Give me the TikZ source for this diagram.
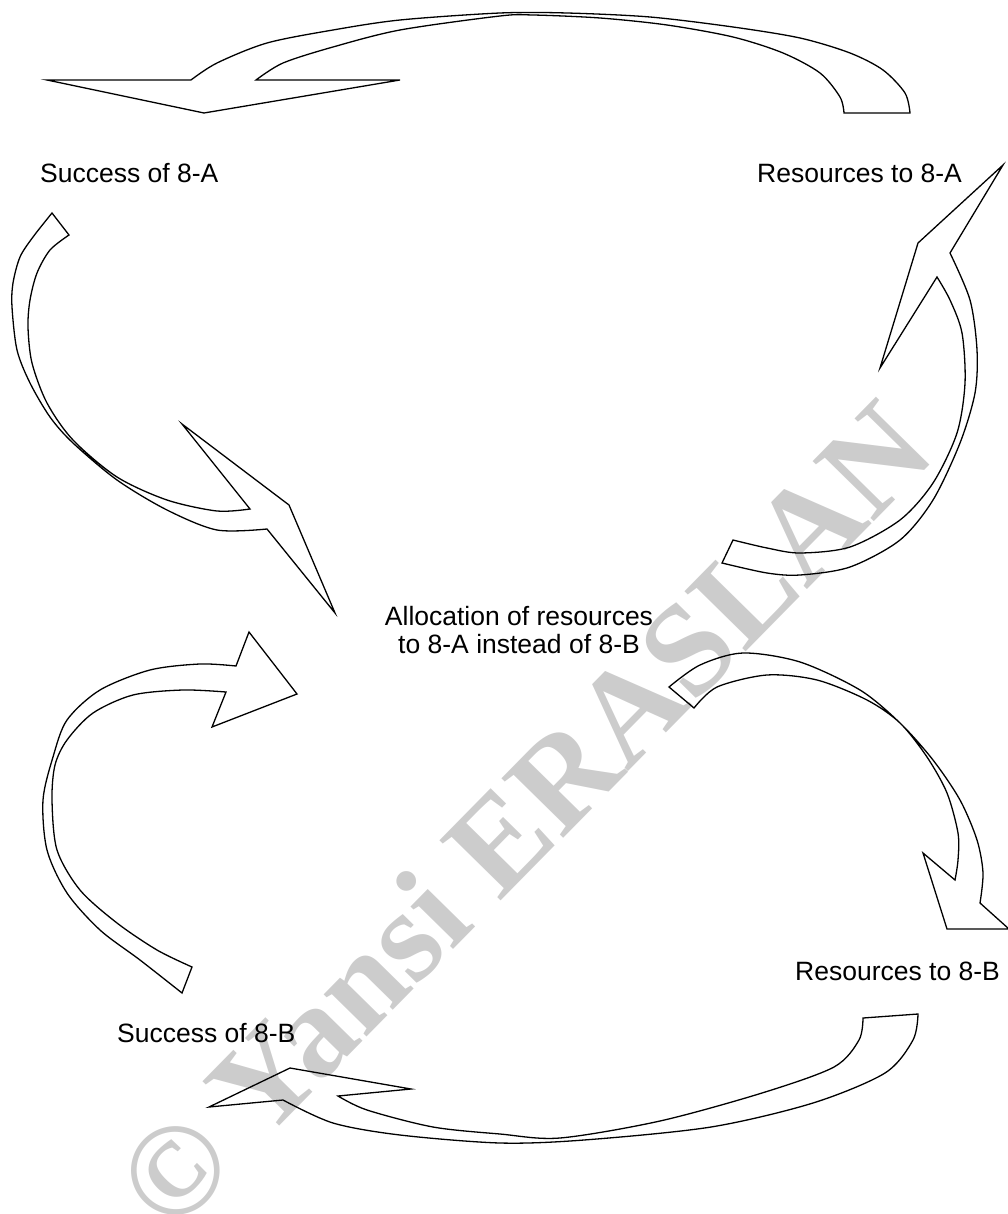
\documentclass[tikz,border=0pt]{standalone}
\usepackage{fontspec}
\setmainfont{Liberation Sans}
\newfontfamily\wmfont{Liberation Serif}
\begin{document}
\begin{tikzpicture}[x=1pt,y=-1pt,
  arr/.style={draw=black,line width=1.3pt,line join=miter},
  lbl/.style={inner sep=0pt,font=\fontsize{26.5}{28}\selectfont},
  wm/.style={text=black!20,font=\wmfont\bfseries\fontsize{131}{131}\selectfont}]
\useasboundingbox (0,0) rectangle (1007,1214);
% watermark
\node[wm,rotate=45.5] (wmark) at (523,815) {© Yansi ERASLAN};
% labels
\node[lbl,anchor=base west] (sA) at (40,183) {Success of 8-A};
\node[lbl,anchor=base west] (rA) at (757,183) {Resources to 8-A};
\node[lbl,anchor=north,align=center] (alloc) at (519,606.5) {Allocation of resources\\to 8-A instead of 8-B};
\node[lbl,anchor=base west] (rB) at (795,980) {Resources to 8-B};
\node[lbl,anchor=base west] (sB) at (117,1042) {Success of 8-B};
% arrow 1: top, Resources to 8-A -> Success of 8-A
\draw[arr] (910,113) -- (844,113)
  -- plot[smooth] coordinates {(844,113) (840,97) (820,73) (783,53) (733,37) (667,25) (600,18) (533,15) (500,16) (400,30) (333,47) (283,63) (256,80)}
  -- (400,80) -- (204,113) -- (47,80) -- (191,80)
  -- plot[smooth] coordinates {(191,80) (217,63) (267,43) (333,30) (400,20) (500,13) (567,13) (650,17) (733,27) (800,38) (850,53) (883,70) (905,93) (910,113)}
  -- cycle;
% arrow 2: upper left, Success of 8-A -> Allocation
\draw[arr] (69,235) -- (52,213)
  -- plot[smooth] coordinates {(52,213) (33,237) (20,257) (13,283) (12,307) (17,350) (30,383) (50,417) (73,443) (117,480) (167,510) (217,530) (267,529)}
  -- (335,613) -- (289,505) -- (182,424) -- (250,509)
  -- plot[smooth] coordinates {(250,509) (217,511) (167,500) (117,477) (73,440) (47,403) (32,363) (28,327) (30,300) (37,273) (50,250) (69,235)}
  -- cycle;
% arrow 3: upper right, Allocation -> Resources to 8-A
\draw[arr] (733,540) -- (722,563)
  -- plot[smooth] coordinates {(722,563) (767,573) (800,575) (850,567) (900,540) (933,500) (960,443) (975,393) (977,350) (970,300) (950,253)}
  -- (1003,165) -- (918,243) -- (880,368) -- (937,277)
  -- plot[smooth] coordinates {(937,277) (950,300) (962,333) (965,383) (957,433) (933,483) (900,520) (850,547) (800,553) (767,548) (733,540)}
  -- cycle;
% arrow 4: lower left, Success of 8-B -> Allocation
\draw[arr] (192,967) -- (182,993)
  -- plot[smooth] coordinates {(182,993) (140,960) (100,930) (67,893) (47,850) (43,800) (53,757) (67,720) (100,690) (150,670) (200,664) (236,666)}
  -- (249,632) -- (297,694) -- (212,727) -- (226,692)
  -- plot[smooth] coordinates {(226,692) (183,690) (133,695) (93,713) (67,740) (55,765) (52,800) (57,850) (80,890) (117,923) (157,950) (192,967)}
  -- cycle;
% arrow 5: lower right, Allocation -> Resources to 8-B
\draw[arr] (694,708) -- (669,687)
  -- plot[smooth] coordinates {(669,687) (700,665) (743,653) (800,662) (860,690) (900,723) (933,760) (960,800) (977,840) (983,873) (980,903)}
  -- (1009,929) -- (947,929) -- (923,853) -- (955,880)
  -- plot[smooth] coordinates {(955,880) (958,860) (958,833) (947,793) (927,757) (900,723) (867,700) (817,680) (767,675) (717,687) (694,708)}
  -- cycle;
% arrow 6: bottom, Resources to 8-B -> Success of 8-B
\draw[arr] (863,1018) -- (918,1014)
  -- plot[smooth] coordinates {(918,1014) (913,1040) (885,1073) (813,1103) (711,1127) (584,1140) (500,1143) (400,1135) (333,1123) (283,1100)}
  -- (209,1107) -- (290,1068) -- (411,1089) -- (338,1096)
  -- plot[smooth] coordinates {(338,1096) (367,1110) (433,1127) (500,1134) (560,1138) (660,1121) (762,1093) (834,1067) (859,1040) (863,1018)}
  -- cycle;
\end{tikzpicture}
\end{document}
